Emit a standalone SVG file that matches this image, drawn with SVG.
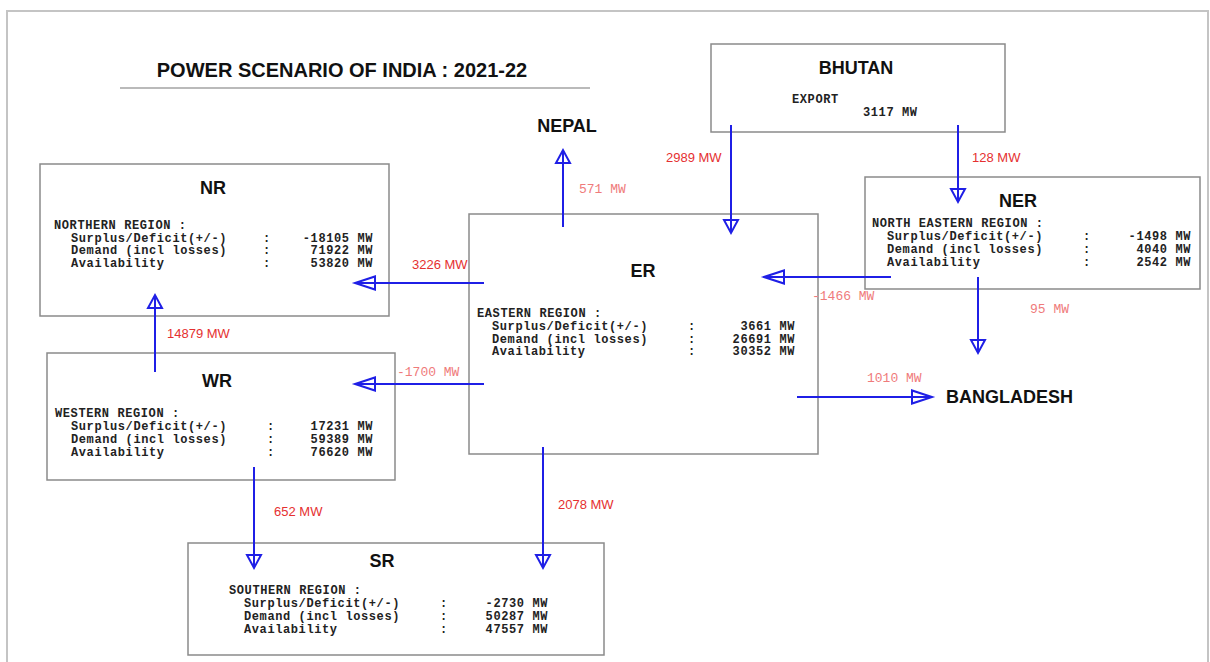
<svg xmlns="http://www.w3.org/2000/svg" width="1210" height="662" viewBox="0 0 1210 662">
<style>
.frame{fill:none;stroke:#c4c4c4;stroke-width:2}
.box{fill:#fff;stroke:#8a8a8a;stroke-width:1.5}
.hd{font-family:"Liberation Sans",Arial,sans-serif;font-weight:bold;font-size:18px;fill:#111;text-anchor:middle}
.mono{font-family:"Liberation Mono","Courier New",monospace;font-weight:bold;font-size:12px;letter-spacing:0.6px;fill:#222}
.end{text-anchor:end}
.con{stroke:#1f1fe6;stroke-width:2;fill:none}
.lbl{font-family:"Liberation Sans",Arial,sans-serif;font-size:13px;fill:#e53030}
.lblm{font-family:"Liberation Mono","Courier New",monospace;font-size:13px;fill:#ef7b7b}
</style>
<rect width="1210" height="662" fill="#fff"/>
<rect class="frame" x="7" y="11" width="1201" height="660"/>
<g id="title">
<text x="342" y="77" font-family="Liberation Sans, Arial, sans-serif" font-weight="bold" font-size="20" fill="#111" text-anchor="middle">POWER SCENARIO OF INDIA : 2021-22</text>
<line x1="120" y1="88" x2="590" y2="88" stroke="#777" stroke-width="1.2"/>
</g>
<g id="bhutan">
<rect class="box" x="711" y="44" width="294" height="88"/>
<text class="hd" x="856" y="74">BHUTAN</text>
<text class="mono" x="792" y="103">EXPORT</text>
<text class="mono" x="863" y="116">3117 MW</text>
</g>
<g id="nepal">
<text class="hd" x="567" y="132">NEPAL</text>
</g>
<g id="bangladesh">
<text class="hd" x="946" y="403" style="text-anchor:start">BANGLADESH</text>
</g>
<g id="nr">
<rect class="box" x="40" y="164" width="349" height="152"/>
<text class="hd" x="213" y="194">NR</text>
<text class="mono" x="54" y="229">NORTHERN REGION :</text>
<text class="mono" x="71" y="241.5">Surplus/Deficit(+/-)</text>
<text class="mono" x="263" y="241.5">:</text>
<text class="mono end" x="373" y="241.5">-18105 MW</text>
<text class="mono" x="71" y="254">Demand (incl losses)</text>
<text class="mono" x="263" y="254">:</text>
<text class="mono end" x="373" y="254">71922 MW</text>
<text class="mono" x="71" y="266.5">Availability</text>
<text class="mono" x="263" y="266.5">:</text>
<text class="mono end" x="373" y="266.5">53820 MW</text>
</g>
<g id="wr">
<rect class="box" x="47" y="353" width="348" height="127"/>
<text class="hd" x="217" y="387">WR</text>
<text class="mono" x="55" y="417">WESTERN REGION :</text>
<text class="mono" x="71" y="430">Surplus/Deficit(+/-)</text>
<text class="mono" x="267" y="430">:</text>
<text class="mono end" x="373" y="430">17231 MW</text>
<text class="mono" x="71" y="443">Demand (incl losses)</text>
<text class="mono" x="267" y="443">:</text>
<text class="mono end" x="373" y="443">59389 MW</text>
<text class="mono" x="71" y="456">Availability</text>
<text class="mono" x="267" y="456">:</text>
<text class="mono end" x="373" y="456">76620 MW</text>
</g>
<g id="er">
<rect class="box" x="469" y="214" width="349" height="240"/>
<text class="hd" x="643" y="277">ER</text>
<text class="mono" x="477" y="317">EASTERN REGION :</text>
<text class="mono" x="492" y="330">Surplus/Deficit(+/-)</text>
<text class="mono" x="688" y="330">:</text>
<text class="mono end" x="795" y="330">3661 MW</text>
<text class="mono" x="492" y="342.5">Demand (incl losses)</text>
<text class="mono" x="688" y="342.5">:</text>
<text class="mono end" x="795" y="342.5">26691 MW</text>
<text class="mono" x="492" y="355">Availability</text>
<text class="mono" x="688" y="355">:</text>
<text class="mono end" x="795" y="355">30352 MW</text>
</g>
<g id="ner">
<rect class="box" x="865" y="177" width="335" height="112"/>
<text class="hd" x="1018" y="207">NER</text>
<text class="mono" x="872" y="227">NORTH EASTERN REGION :</text>
<text class="mono" x="887" y="240">Surplus/Deficit(+/-)</text>
<text class="mono" x="1083" y="240">:</text>
<text class="mono end" x="1191" y="240">-1498 MW</text>
<text class="mono" x="887" y="253">Demand (incl losses)</text>
<text class="mono" x="1083" y="253">:</text>
<text class="mono end" x="1191" y="253">4040 MW</text>
<text class="mono" x="887" y="266">Availability</text>
<text class="mono" x="1083" y="266">:</text>
<text class="mono end" x="1191" y="266">2542 MW</text>
</g>
<g id="sr">
<rect class="box" x="188" y="543" width="416" height="112"/>
<text class="hd" x="382" y="567">SR</text>
<text class="mono" x="229" y="594">SOUTHERN REGION :</text>
<text class="mono" x="244" y="607">Surplus/Deficit(+/-)</text>
<text class="mono" x="440" y="607">:</text>
<text class="mono end" x="548" y="607">-2730 MW</text>
<text class="mono" x="244" y="620">Demand (incl losses)</text>
<text class="mono" x="440" y="620">:</text>
<text class="mono end" x="548" y="620">50287 MW</text>
<text class="mono" x="244" y="633">Availability</text>
<text class="mono" x="440" y="633">:</text>
<text class="mono end" x="548" y="633">47557 MW</text>
</g>
<g id="connectors">
<path class="con" d="M563 227V150M556 163H570L563 150Z"/>
<path class="con" d="M731 125V233M724 220H738L731 233Z"/>
<path class="con" d="M958 125V202M951 189H965L958 202Z"/>
<path class="con" d="M891 277H764M784 270.5V283.5L764 277Z"/>
<path class="con" d="M484 283H355M375 276.5V289.5L355 283Z"/>
<path class="con" d="M484 384H355M375 377.5V390.5L355 384Z"/>
<path class="con" d="M155 372V295M148 308H162L155 295Z"/>
<path class="con" d="M254 467V568M247 555H261L254 568Z"/>
<path class="con" d="M543 447V568M536 555H550L543 568Z"/>
<path class="con" d="M797 397H932M912 390.5V403.5L932 397Z"/>
<path class="con" d="M978 277V353M971 340H985L978 353Z"/>
</g>
<g id="labels">
<text class="lblm" x="579" y="193">571 MW</text>
<text class="lbl" x="666" y="162">2989 MW</text>
<text class="lbl" x="972" y="162">128 MW</text>
<text class="lbl" x="412" y="269">3226 MW</text>
<text class="lblm" x="812" y="300">-1466 MW</text>
<text class="lblm" x="1030" y="313">95 MW</text>
<text class="lbl" x="167" y="338">14879 MW</text>
<text class="lblm" x="397" y="376">-1700 MW</text>
<text class="lblm" x="867" y="382">1010 MW</text>
<text class="lbl" x="274" y="516">652 MW</text>
<text class="lbl" x="558" y="509">2078 MW</text>
</g>
</svg>
